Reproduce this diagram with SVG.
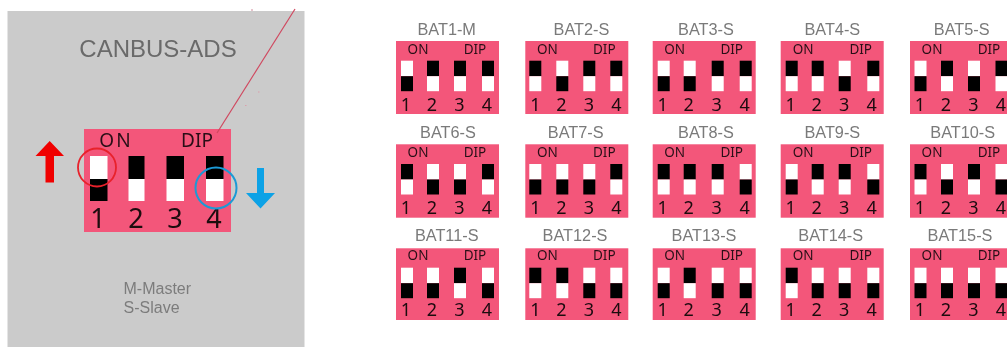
<svg xmlns="http://www.w3.org/2000/svg" xmlns:xlink="http://www.w3.org/1999/xlink" width="1007" height="347" viewBox="0 0 1007 347">
<style>
.p{fill:#f3567a}
.t{font-family:"Liberation Sans",Arial,sans-serif;font-size:16.300px;fill:#7a7a7a;text-anchor:middle}
.l{font-family:"Noto Sans",sans-serif;font-size:13.500px;fill:#2a1018;text-anchor:middle}
.n{font-family:"Noto Sans",sans-serif;font-size:18px;fill:#1c0a10;text-anchor:middle}
.L{font-size:19px}.N{font-size:27px}
.g{font-family:"Liberation Sans",Arial,sans-serif;fill:#7c7c7c}
</style>
<defs>
<filter id="b" x="-5%" y="-5%" width="110%" height="110%"><feGaussianBlur stdDeviation="0.45"/></filter>
<g id="u"><rect width="12" height="15.500" fill="#fff"/><rect y="15.500" width="12" height="15" fill="#000"/></g>
<g id="d"><rect width="12" height="15.500" fill="#000"/><rect y="15.500" width="12" height="15" fill="#fff"/></g>
</defs>
<rect width="1007" height="347" fill="#fff"/>
<g filter="url(#b)">
<g id="main">
<rect x="7.500" y="11" width="297" height="336" fill="#cbcbcb"/>
<text x="158" y="57" text-anchor="middle" font-family="Liberation Sans, Arial, sans-serif" font-size="24" fill="#6a6a6a">CANBUS-ADS</text>
<rect x="84" y="129" width="147" height="103" class="p"/>
<text x="116" y="147" class="l L" letter-spacing="2">ON</text><text x="197" y="147" class="l L">DIP</text>
<rect x="90" y="156" width="17.500" height="23" fill="#fff"/><rect x="90" y="179" width="17.500" height="22" fill="#000"/>
<rect x="128.500" y="156" width="16" height="23" fill="#000"/><rect x="128.500" y="179" width="16" height="22" fill="#fff"/>
<rect x="166.500" y="156" width="17.500" height="23" fill="#000"/><rect x="166.500" y="179" width="17.500" height="22" fill="#fff"/>
<rect x="206" y="156" width="17.500" height="23" fill="#000"/><rect x="206" y="179" width="17.500" height="22" fill="#fff"/>
<text x="98" y="228" class="n N">1</text><text x="136" y="228" class="n N">2</text><text x="175" y="228" class="n N">3</text><text x="214" y="228" class="n N">4</text>
<circle cx="97" cy="167.500" r="19" fill="none" stroke="#e8202c" stroke-width="1.800"/>
<circle cx="216" cy="188" r="20.500" fill="none" stroke="#1b9ad6" stroke-width="2"/>
<path d="M49.700 141L64 156H54V182.500H45.500V156H35.500Z" fill="#f00000"/>
<path d="M257 168H264V193H275L260.500 208.500L246 193H257Z" fill="#0ca2e6"/>
<text x="123.500" y="294" class="g" font-size="16">M-Master</text>
<text x="123.500" y="312.500" class="g" font-size="16">S-Slave</text>
</g>
<g id="connectors">
<path d="M295 9L217 133" fill="none" stroke="#d0485f" stroke-width="1.200"/>
<path d="M252 9v2M258 92h1.500M245 105.500h1.500" stroke="#d9a0ac" stroke-width="1.200" fill="none"/>
</g>
<g id="bat1"><text x="446.700" y="35" class="t">BAT1-M</text><g transform="translate(396 41)"><rect width="103" height="73" class="p"/><text x="22" y="13.300" class="l">ON</text><text x="79" y="13.300" class="l">DIP</text><use href="#u" x="5" y="19.700"/><use href="#d" x="31" y="19.700"/><use href="#d" x="58" y="19.700"/><use href="#d" x="86" y="19.700"/><text x="10" y="69.700" class="n">1</text><text x="36" y="69.700" class="n">2</text><text x="63.500" y="69.700" class="n">3</text><text x="91" y="69.700" class="n">4</text></g></g>
<g id="bat2"><text x="581.500" y="35" class="t">BAT2-S</text><g transform="translate(525.300 41)"><rect width="103" height="73" class="p"/><text x="22" y="13.300" class="l">ON</text><text x="79" y="13.300" class="l">DIP</text><use href="#d" x="4" y="19.700"/><use href="#u" x="31" y="19.700"/><use href="#d" x="58" y="19.700"/><use href="#d" x="85" y="19.700"/><text x="10" y="69.700" class="n">1</text><text x="36" y="69.700" class="n">2</text><text x="63.500" y="69.700" class="n">3</text><text x="91" y="69.700" class="n">4</text></g></g>
<g id="bat3"><text x="706" y="35" class="t">BAT3-S</text><g transform="translate(652.700 41)"><rect width="103" height="73" class="p"/><text x="22" y="13.300" class="l">ON</text><text x="79" y="13.300" class="l">DIP</text><use href="#u" x="5" y="19.700"/><use href="#u" x="31" y="19.700"/><use href="#d" x="59" y="19.700"/><use href="#d" x="87" y="19.700"/><text x="10" y="69.700" class="n">1</text><text x="36" y="69.700" class="n">2</text><text x="64" y="69.700" class="n">3</text><text x="92" y="69.700" class="n">4</text></g></g>
<g id="bat4"><text x="832.300" y="35" class="t">BAT4-S</text><g transform="translate(780.700 41)"><rect width="103" height="73" class="p"/><text x="22.500" y="13.300" class="l">ON</text><text x="80" y="13.300" class="l">DIP</text><use href="#d" x="5" y="19.700"/><use href="#d" x="31" y="19.700"/><use href="#u" x="58" y="19.700"/><use href="#d" x="86.600" y="19.700"/><text x="10" y="69.700" class="n">1</text><text x="36" y="69.700" class="n">2</text><text x="63.500" y="69.700" class="n">3</text><text x="91" y="69.700" class="n">4</text></g></g>
<g id="bat5"><text x="961.700" y="35" class="t">BAT5-S</text><g transform="translate(910 41)"><rect width="103" height="73" class="p"/><text x="22" y="13.300" class="l">ON</text><text x="79" y="13.300" class="l">DIP</text><use href="#u" x="4.500" y="19.700"/><use href="#d" x="31" y="19.700"/><use href="#u" x="58" y="19.700"/><use href="#d" x="85.500" y="19.700"/><text x="10" y="69.700" class="n">1</text><text x="36" y="69.700" class="n">2</text><text x="63.500" y="69.700" class="n">3</text><text x="91" y="69.700" class="n">4</text></g></g>
<g id="bat6"><text x="448" y="137.700" class="t">BAT6-S</text><g transform="translate(396 144.300)"><rect width="103" height="73.400" class="p"/><text x="22" y="13" class="l">ON</text><text x="79" y="13" class="l">DIP</text><use href="#d" x="5" y="19.700"/><use href="#u" x="31" y="19.700"/><use href="#u" x="58" y="19.700"/><use href="#d" x="86" y="19.700"/><text x="10" y="70" class="n">1</text><text x="36" y="70" class="n">2</text><text x="63.500" y="70" class="n">3</text><text x="91" y="70" class="n">4</text></g></g>
<g id="bat7"><text x="575.700" y="137.700" class="t">BAT7-S</text><g transform="translate(525.300 144.300)"><rect width="103" height="73.400" class="p"/><text x="22" y="13" class="l">ON</text><text x="79" y="13" class="l">DIP</text><use href="#u" x="4" y="19.700"/><use href="#u" x="31" y="19.700"/><use href="#u" x="58" y="19.700"/><use href="#d" x="85" y="19.700"/><text x="10" y="70" class="n">1</text><text x="36" y="70" class="n">2</text><text x="63.500" y="70" class="n">3</text><text x="91" y="70" class="n">4</text></g></g>
<g id="bat8"><text x="706" y="137.700" class="t">BAT8-S</text><g transform="translate(652.700 144.300)"><rect width="103" height="73.400" class="p"/><text x="22" y="13" class="l">ON</text><text x="79" y="13" class="l">DIP</text><use href="#d" x="5" y="19.700"/><use href="#d" x="31" y="19.700"/><use href="#d" x="59" y="19.700"/><use href="#u" x="87" y="19.700"/><text x="10" y="70" class="n">1</text><text x="36" y="70" class="n">2</text><text x="64" y="70" class="n">3</text><text x="92" y="70" class="n">4</text></g></g>
<g id="bat9"><text x="832.300" y="137.700" class="t">BAT9-S</text><g transform="translate(780.700 144.300)"><rect width="103" height="73.400" class="p"/><text x="22.500" y="13" class="l">ON</text><text x="80" y="13" class="l">DIP</text><use href="#u" x="5" y="19.700"/><use href="#d" x="31" y="19.700"/><use href="#d" x="58" y="19.700"/><use href="#u" x="86.600" y="19.700"/><text x="10" y="70" class="n">1</text><text x="36" y="70" class="n">2</text><text x="63.500" y="70" class="n">3</text><text x="91" y="70" class="n">4</text></g></g>
<g id="bat10"><text x="962.700" y="137.700" class="t">BAT10-S</text><g transform="translate(910 144.300)"><rect width="103" height="73.400" class="p"/><text x="22" y="13" class="l">ON</text><text x="79" y="13" class="l">DIP</text><use href="#d" x="4.500" y="19.700"/><use href="#u" x="31" y="19.700"/><use href="#d" x="58" y="19.700"/><use href="#u" x="85.500" y="19.700"/><text x="10" y="70" class="n">1</text><text x="36" y="70" class="n">2</text><text x="63.500" y="70" class="n">3</text><text x="91" y="70" class="n">4</text></g></g>
<g id="bat11"><text x="446.700" y="241" class="t">BAT11-S</text><g transform="translate(396 248.300)"><rect width="103" height="71.700" class="p"/><text x="22" y="12" class="l">ON</text><text x="79" y="12" class="l">DIP</text><use href="#u" x="5" y="19.400"/><use href="#u" x="31" y="19.400"/><use href="#d" x="58" y="19.400"/><use href="#u" x="86" y="19.400"/><text x="10" y="68" class="n">1</text><text x="36" y="68" class="n">2</text><text x="63.500" y="68" class="n">3</text><text x="91" y="68" class="n">4</text></g></g>
<g id="bat12"><text x="575" y="241" class="t">BAT12-S</text><g transform="translate(525.300 248.300)"><rect width="103" height="71.700" class="p"/><text x="22" y="12" class="l">ON</text><text x="79" y="12" class="l">DIP</text><use href="#d" x="4" y="19.400"/><use href="#d" x="31" y="19.400"/><use href="#u" x="58" y="19.400"/><use href="#u" x="85" y="19.400"/><text x="10" y="68" class="n">1</text><text x="36" y="68" class="n">2</text><text x="63.500" y="68" class="n">3</text><text x="91" y="68" class="n">4</text></g></g>
<g id="bat13"><text x="704" y="241" class="t">BAT13-S</text><g transform="translate(652.700 248.300)"><rect width="103" height="71.700" class="p"/><text x="22" y="12" class="l">ON</text><text x="79" y="12" class="l">DIP</text><use href="#u" x="5" y="19.400"/><use href="#d" x="31" y="19.400"/><use href="#u" x="59" y="19.400"/><use href="#u" x="87" y="19.400"/><text x="10" y="68" class="n">1</text><text x="36" y="68" class="n">2</text><text x="64" y="68" class="n">3</text><text x="92" y="68" class="n">4</text></g></g>
<g id="bat14"><text x="830.700" y="241" class="t">BAT14-S</text><g transform="translate(780.700 248.300)"><rect width="103" height="71.700" class="p"/><text x="22.500" y="12" class="l">ON</text><text x="80" y="12" class="l">DIP</text><use href="#d" x="5" y="19.400"/><use href="#u" x="31" y="19.400"/><use href="#u" x="58" y="19.400"/><use href="#u" x="86.600" y="19.400"/><text x="10" y="68" class="n">1</text><text x="36" y="68" class="n">2</text><text x="63.500" y="68" class="n">3</text><text x="91" y="68" class="n">4</text></g></g>
<g id="bat15"><text x="960" y="241" class="t">BAT15-S</text><g transform="translate(910 248.300)"><rect width="103" height="71.700" class="p"/><text x="22" y="12" class="l">ON</text><text x="79" y="12" class="l">DIP</text><use href="#u" x="4.500" y="19.400"/><use href="#u" x="31" y="19.400"/><use href="#u" x="58" y="19.400"/><use href="#u" x="85.500" y="19.400"/><text x="10" y="68" class="n">1</text><text x="36" y="68" class="n">2</text><text x="63.500" y="68" class="n">3</text><text x="91" y="68" class="n">4</text></g></g>
</g>
</svg>
